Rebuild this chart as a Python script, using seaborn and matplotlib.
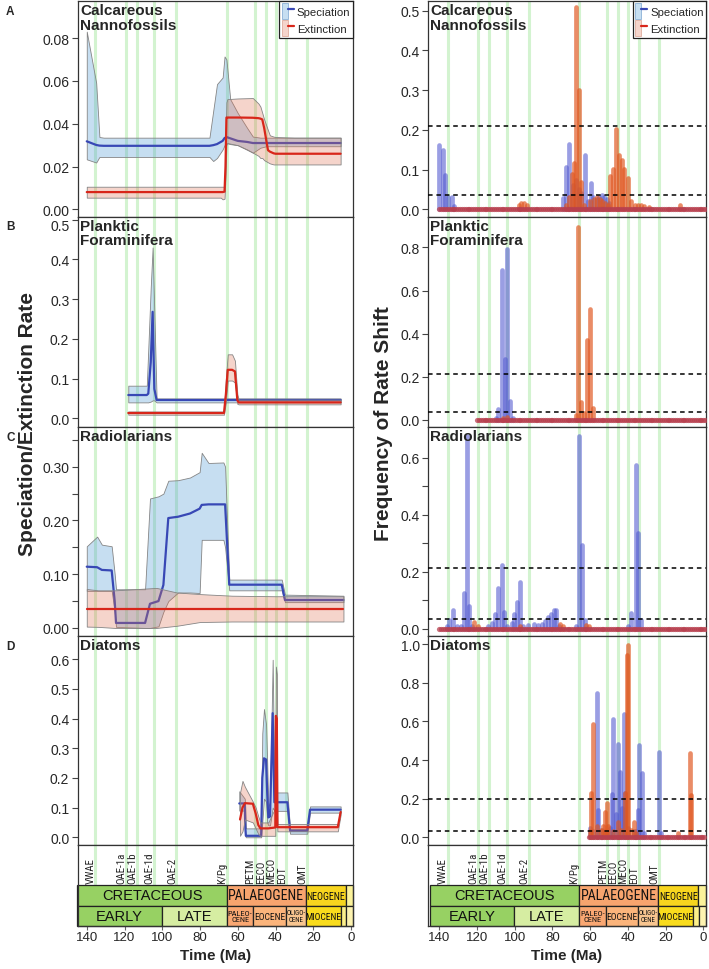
import numpy as np
import matplotlib
matplotlib.use("Agg")
import matplotlib.pyplot as plt
import seaborn as sns
from matplotlib.patches import Rectangle, Patch
from matplotlib.lines import Line2D
from matplotlib.legend_handler import HandlerTuple
from matplotlib import font_manager
from matplotlib.font_manager import FontProperties
from matplotlib.colors import to_rgba
import matplotlib.transforms as mtransforms

# ---------------------------------------------------------------- data
PANEL_NAMES = ["Calcareous\nNannofossils", "Planktic\nForaminifera", "Radiolarians", "Diatoms"]
PANEL_LETTERS = ["A", "B", "C", "D"]

# left column: rates (median + 95% band)
nanno_sp_age = [140, 135, 133.3, 131, 75, 73, 71, 68, 67, 66, 64, 60, 55, 52, 48, 45, 40, 30, 5.5]
nanno_sp_mid = [0.0318, 0.0301, 0.0298, 0.0297, 0.0297, 0.0300, 0.0305, 0.032, 0.0333, 0.0338, 0.0332, 0.032, 0.0315, 0.031, 0.031, 0.031, 0.031, 0.031, 0.031]
nanno_sp_hi = [0.083, 0.059, 0.0338, 0.0335, 0.0335, 0.046, 0.0585, 0.0616, 0.0714, 0.070, 0.0515, 0.045, 0.038, 0.034, 0.0335, 0.0335, 0.0335, 0.0335, 0.0335]
nanno_sp_lo = [0.0234, 0.0219, 0.0245, 0.0245, 0.0245, 0.0226, 0.024, 0.028, 0.030, 0.031, 0.0305, 0.030, 0.028, 0.0265, 0.0288, 0.0295, 0.0295, 0.0295, 0.0295]
nanno_ex_age = [140, 69, 68, 67, 66.5, 66, 65.5, 60, 52, 49, 48, 47, 46, 44, 43, 41, 40, 30, 5.5]
nanno_ex_mid = [0.0081, 0.0081, 0.0081, 0.0083, 0.020, 0.0429, 0.0429, 0.0429, 0.0428, 0.0426, 0.0424, 0.042, 0.038, 0.0277, 0.027, 0.0262, 0.026, 0.026, 0.026]
nanno_ex_hi = [0.0106, 0.0106, 0.0106, 0.0106, 0.030, 0.050, 0.0515, 0.0518, 0.052, 0.0494, 0.048, 0.045, 0.042, 0.037, 0.0346, 0.034, 0.0338, 0.0335, 0.0335]
nanno_ex_lo = [0.0055, 0.0055, 0.0047, 0.005, 0.015, 0.030, 0.031, 0.030, 0.0265, 0.025, 0.024, 0.024, 0.023, 0.022, 0.0215, 0.021, 0.021, 0.021, 0.021]

foram_sp_age = [118, 108.2, 107.4, 106.1, 105.1, 104.2, 103.0, 5.5]
foram_sp_mid = [0.0585, 0.0585, 0.062, 0.141, 0.268, 0.074, 0.046, 0.046]
foram_sp_hi = [0.082, 0.082, 0.175, 0.33, 0.43, 0.265, 0.050, 0.050]
foram_sp_lo = [0.040, 0.040, 0.040, 0.042, 0.045, 0.045, 0.040, 0.040]
foram_ex_age = [118, 67.3, 66.3, 65.3, 63, 61.5, 60.2, 59.5, 5.5]
foram_ex_mid = [0.0133, 0.0133, 0.06, 0.122, 0.122, 0.118, 0.045, 0.040, 0.040]
foram_ex_hi = [0.017, 0.017, 0.10, 0.161, 0.161, 0.145, 0.06, 0.047, 0.047]
foram_ex_lo = [0.009, 0.009, 0.04, 0.095, 0.095, 0.09, 0.036, 0.035, 0.035]

radio_sp_age = [140, 134.5, 132, 126.8, 125.2, 124.5, 109.1, 106.5, 102, 99.4, 96.8, 91.6, 85.3, 80.2, 79.1, 75.5, 67.6, 66.7, 64.5, 36.7, 35, 4]
radio_sp_mid = [0.114, 0.113, 0.108, 0.107, 0.05, 0.0093, 0.0093, 0.045, 0.05, 0.08, 0.2045, 0.207, 0.213, 0.222, 0.229, 0.23, 0.23, 0.23, 0.0805, 0.0805, 0.052, 0.052]
radio_sp_hi = [0.152, 0.170, 0.155, 0.152, 0.10, 0.072, 0.072, 0.241, 0.245, 0.25, 0.274, 0.275, 0.28, 0.29, 0.326, 0.307, 0.308, 0.30, 0.09, 0.09, 0.062, 0.06]
radio_sp_lo = [0.069, 0.069, 0.069, 0.069, 0.03, 0.002, 0.0, 0.0, 0.003, 0.03, 0.05, 0.066, 0.066, 0.065, 0.164, 0.164, 0.164, 0.15, 0.07, 0.07, 0.048, 0.048]
radio_ex_age = [140, 134, 125, 103, 92.3, 80, 63, 40, 4]
radio_ex_mid = [0.0353, 0.0353, 0.0353, 0.0353, 0.0353, 0.0353, 0.0353, 0.0353, 0.0353]
radio_ex_hi = [0.0725, 0.070, 0.070, 0.0745, 0.066, 0.063, 0.060, 0.059, 0.059]
radio_ex_lo = [0.0025, 0.002, 0.0, 0.0, 0.004, 0.011, 0.012, 0.012, 0.012]

diatom_sp_age = [59.2, 56.3, 56.0, 55.7, 47.6, 47.0, 46.1, 45.0, 44.4, 43.8, 42.9, 41.5, 40.6, 33.7, 32.3, 23.2, 21.7, 5.5]
diatom_sp_mid = [0.114, 0.114, 0.034, 0.005, 0.005, 0.20, 0.266, 0.262, 0.15, 0.067, 0.07, 0.418, 0.118, 0.118, 0.022, 0.022, 0.093, 0.093]
diatom_sp_hi = [0.155, 0.13, 0.10, 0.03, 0.03, 0.35, 0.432, 0.38, 0.25, 0.10, 0.12, 0.598, 0.151, 0.151, 0.028, 0.028, 0.104, 0.104]
diatom_sp_lo = [0.09, 0.09, 0.005, 0.0, 0.0, 0.05, 0.13, 0.12, 0.05, 0.04, 0.04, 0.10, 0.089, 0.089, 0.012, 0.012, 0.083, 0.083]
diatom_ex_age = [58.8, 57.5, 56.2, 52.0, 50.5, 49.1, 48.0, 43.8, 40.1, 39.8, 39.3, 39.0, 7.0, 5.5]
diatom_ex_mid = [0.06, 0.10, 0.115, 0.113, 0.08, 0.041, 0.03, 0.03, 0.033, 0.409, 0.40, 0.034, 0.034, 0.085]
diatom_ex_hi = [0.15, 0.19, 0.17, 0.12, 0.10, 0.07, 0.05, 0.05, 0.10, 0.575, 0.55, 0.045, 0.045, 0.09]
diatom_ex_lo = [0.005, 0.02, 0.06, 0.05, 0.03, 0.01, 0.005, 0.005, 0.005, 0.15, 0.12, 0.02, 0.02, 0.075]

# right column: frequency of rate shifts (non-zero bins)
nanno_spshift_age = [140, 138.2, 136.8, 135.2, 133.5, 132, 74.6, 72.8, 71.2, 69.3, 67.5, 66.1, 65.0, 62.7, 61.2, 59.7, 58.3, 56.5, 55.2, 53.9, 52.5, 51.2, 49.9]
nanno_spshift_freq = [0.163, 0.148, 0.087, 0.03, 0.03, 0.008, 0.029, 0.106, 0.165, 0.06, 0.075, 0.05, 0.04, 0.136, 0.02, 0.066, 0.03, 0.025, 0.03, 0.035, 0.03, 0.025, 0.015]
nanno_exshift_age = [98, 96.5, 95, 93.5, 72.8, 71.2, 69.8, 68.6, 67.5, 66.1, 65.0, 63.5, 60, 58, 56.5, 55, 53.5, 52, 50.5, 49.5, 48.1, 46.3, 44.7, 43.3, 41.9, 40.1, 38.5, 36, 34.5, 33, 31.5, 29, 12.5]
nanno_exshift_freq = [0.012, 0.016, 0.015, 0.01, 0.01, 0.03, 0.09, 0.117, 0.508, 0.299, 0.07, 0.01, 0.02, 0.025, 0.03, 0.025, 0.02, 0.015, 0.01, 0.084, 0.101, 0.201, 0.136, 0.123, 0.101, 0.080, 0.02, 0.01, 0.012, 0.01, 0.008, 0.005, 0.012]

foram_spshift_age = [110, 108.7, 106.6, 105.2, 104, 102.5, 101]
foram_spshift_freq = [0.01, 0.05, 0.694, 0.283, 0.792, 0.089, 0.01]
foram_exshift_age = [106, 104, 67.5, 66.3, 64.9, 63.3, 61.5, 60.1, 58.7]
foram_exshift_freq = [0.01, 0.012, 0.02, 0.893, 0.084, 0.03, 0.368, 0.513, 0.054]

radio_spshift_age = [136, 134.7, 132.6, 130.5, 128.5, 126.9, 125.5, 124.1, 122.5, 114, 112.2, 110.5, 108.7, 106.9, 105.6, 104, 101.6, 100.2, 98.6, 97.2, 95.5, 93, 90, 87.5, 85.7, 84, 82.2, 80.8, 79.2, 78.1, 76.5, 67.5, 66, 64.5, 63, 40, 38.4, 35.9, 34.5, 33]
radio_spshift_freq = [0.01, 0.03, 0.064, 0.01, 0.01, 0.125, 0.675, 0.08, 0.01, 0.01, 0.02, 0.052, 0.144, 0.222, 0.06, 0.01, 0.02, 0.052, 0.095, 0.165, 0.01, 0.012, 0.015, 0.012, 0.015, 0.025, 0.04, 0.052, 0.064, 0.065, 0.01, 0.01, 0.675, 0.295, 0.03, 0.01, 0.056, 0.574, 0.337, 0.03]
radio_exshift_age = [121.5, 119.5, 97, 76, 74.5, 62, 60.5]
radio_exshift_freq = [0.022, 0.01, 0.008, 0.015, 0.01, 0.012, 0.008]

diatom_spshift_age = [60.1, 58.5, 56.5, 55.7, 54, 51.5, 49.3, 48.6, 48.1, 46.5, 45.0, 44.2, 43.2, 42.2, 41.4, 40, 37, 35.5, 34.8, 34.1, 32.7, 31.5, 23.5, 22.5]
diatom_spshift_freq = [0.047, 0.03, 0.749, 0.141, 0.04, 0.03, 0.05, 0.224, 0.611, 0.12, 0.483, 0.34, 0.15, 0.639, 0.23, 0.05, 0.03, 0.03, 0.14, 0.478, 0.332, 0.02, 0.44, 0.02]
diatom_exshift_age = [59.9, 59.4, 58.4, 56.5, 54.5, 53, 52.2, 51.3, 50.5, 48, 45, 43.5, 41.3, 40.7, 39.8, 38.5, 36.7, 35.5, 13.6, 7.2, 6.6]
diatom_exshift_freq = [0.03, 0.228, 0.585, 0.06, 0.04, 0.06, 0.13, 0.176, 0.06, 0.03, 0.08, 0.04, 0.23, 0.945, 0.996, 0.04, 0.08, 0.02, 0.02, 0.435, 0.22]

SHIFT_ORIGIN = [140, 120, 140, 60.5]          # age where each clade's shift record begins
THRESH_HIGH = [0.21, 0.21, 0.212, 0.197]      # dashed reference levels
THRESH_LOW = [0.035, 0.036, 0.034, 0.033]

# y-axis ticks
LEFT_TICKS = [[0, 0.02, 0.04, 0.06, 0.08], [0, 0.1, 0.2, 0.3, 0.4, 0.5],
              [0, 0.05, 0.10, 0.15, 0.20, 0.25, 0.30, 0.35], [0, 0.1, 0.2, 0.3, 0.4, 0.5, 0.6]]
LEFT_TICKLABELS = [["0.00", "0.02", "0.04", "0.06", "0.08"], ["0.0", "0.1", "0.2", "0.3", "0.4", "0.5"],
                   ["0.00", "", "0.10", "", "0.20", "", "0.30", ""], ["0.0", "0.1", "0.2", "0.3", "0.4", "0.5", "0.6"]]
RIGHT_TICKS = [[0, 0.1, 0.2, 0.3, 0.4, 0.5], [0, 0.2, 0.4, 0.6, 0.8],
               [0, 0.1, 0.2, 0.3, 0.4, 0.5, 0.6], [0, 0.2, 0.4, 0.6, 0.8, 1.0]]
RIGHT_TICKLABELS = [["0.0", "0.1", "0.2", "0.3", "0.4", "0.5"], ["0.0", "0.2", "0.4", "0.6", "0.8"],
                    ["0.0", "", "0.2", "", "0.4", "", "0.6"], ["0.0", "0.2", "0.4", "0.6", "0.8", "1.0"]]
LEFT_YLIM = [(-0.0033, 0.0973), (-0.022, 0.508), (-0.015, 0.374), (-0.026, 0.678)]
RIGHT_YLIM = [(-0.018, 0.524), (-0.034, 0.944), (-0.026, 0.708), (-0.04, 1.043)]

X_TICKS = [140, 120, 100, 80, 60, 40, 20, 0]

# events
EVENT_NAMES = ["VWAE", "OAE-1a", "OAE-1b", "OAE-1d", "OAE-2", "K/Pg", "PETM", "EECO", "MECO", "EOT", "OMT"]
EVENT_AGES = [135.6, 119.3, 113.6, 104.2, 92.5, 65.9, 51.0, 45.3, 39.9, 34.3, 23.4]

# geological time scale
PERIOD_NAMES = ["CRETACEOUS", "PALAEOGENE", "NEOGENE", ""]
PERIOD_START = [145, 65.8, 23.9, 2.7]
PERIOD_END = [65.8, 23.9, 2.7, None]
PERIOD_COLORS = ["#97d163", "#f7a46e", "#f7d51e", "#fbf29a"]
EPOCH_NAMES = ["EARLY", "LATE", "PALEO-\nCENE", "EOCENE", "OLIGO-\nCENE", "MIOCENE", "", ""]
EPOCH_START = [145, 100.3, 65.8, 51.7, 34.7, 23.9, 5.5, 2.5]
EPOCH_END = [100.3, 65.8, 51.7, 34.7, 23.9, 5.5, 2.5, None]
EPOCH_COLORS = ["#97d163", "#d6eda2", "#f9a772", "#fbb47b", "#f8c58f", "#f9dc1c", "#fdf08a", "#fdf3b0"]

# ---------------------------------------------------------------- style
sns.set_theme(style="white")
names = {f.name for f in font_manager.fontManager.ttflist}
BASE = "Liberation Sans" if "Liberation Sans" in names else "DejaVu Sans"
plt.rcParams["font.family"] = [BASE, "DejaVu Sans"]
plt.rcParams["axes.linewidth"] = 0.9

# look for a condensed sans face for the cramped time-scale labels
COND_FP = None
pref = ["Liberation Sans Narrow", "Arial Narrow", "Roboto Condensed", "Open Sans Condensed",
        "Noto Sans", "DejaVu Sans", "Roboto", "Open Sans", "Liberation Sans"]
cands = [f for f in font_manager.fontManager.ttflist
         if f.stretch == "condensed" and f.style == "normal"
         and (f.weight in (400, "normal", "regular", "book"))]
cands.sort(key=lambda f: (pref.index(f.name) if f.name in pref else 99))
if cands:
    COND_FP = FontProperties(fname=cands[0].fname)
NSCALE = 1.0 if COND_FP is not None else 0.82


def cond_kw(size):
    if COND_FP is not None:
        fp = COND_FP.copy()
        fp.set_size(size)
        return dict(fontproperties=fp)
    return dict(family=[BASE, "DejaVu Sans"], fontsize=size * NSCALE)


BLUE_LINE = "#3848b5"
RED_LINE = "#d8261a"
BLUE_FILL = to_rgba("#5aa0d7", 0.34)
RED_FILL = to_rgba("#e17355", 0.30)
BAND_EDGE = "#858585"
BLUE_BAR = to_rgba("#5259d0", 0.58)
ORANGE_BAR = to_rgba("#e0561f", 0.68)
BASE_DOT = "#b8404f"
GREEN = "#d3f3d0"

W, H = 709, 970
fig = plt.figure(figsize=(W / 100, H / 100), dpi=100)


def rect(x0, y0, x1, y1):
    return [x0 / W, 1 - y1 / H, (x1 - x0) / W, (y1 - y0) / H]


ROWS = [2, 217.5, 428, 637, 846]
TS_BOTTOM = 926.7
COLS = [(77.7, 352.7), (428, 706)]
XLIMS = [(144.8, -0.9), (146.0, -1.4)]

left_data = [
    (nanno_sp_age, nanno_sp_mid, nanno_sp_lo, nanno_sp_hi, nanno_ex_age, nanno_ex_mid, nanno_ex_lo, nanno_ex_hi),
    (foram_sp_age, foram_sp_mid, foram_sp_lo, foram_sp_hi, foram_ex_age, foram_ex_mid, foram_ex_lo, foram_ex_hi),
    (radio_sp_age, radio_sp_mid, radio_sp_lo, radio_sp_hi, radio_ex_age, radio_ex_mid, radio_ex_lo, radio_ex_hi),
    (diatom_sp_age, diatom_sp_mid, diatom_sp_lo, diatom_sp_hi, diatom_ex_age, diatom_ex_mid, diatom_ex_lo, diatom_ex_hi),
]
right_data = [
    (nanno_spshift_age, nanno_spshift_freq, nanno_exshift_age, nanno_exshift_freq),
    (foram_spshift_age, foram_spshift_freq, foram_exshift_age, foram_exshift_freq),
    (radio_spshift_age, radio_spshift_freq, radio_exshift_age, radio_exshift_freq),
    (diatom_spshift_age, diatom_spshift_freq, diatom_exshift_age, diatom_exshift_freq),
]


def style_axis(ax, xlim, ylim, ticks, labels):
    ax.set_xlim(*xlim)
    ax.set_ylim(*ylim)
    ax.set_xticks([])
    ax.set_yticks(ticks)
    ax.set_yticklabels(labels)
    ax.tick_params(axis="y", which="both", left=True, direction="out", length=4, width=0.8,
                   pad=2, labelsize=10, color="#444444")
    for s in ax.spines.values():
        s.set_color("#333333")
        s.set_linewidth(0.9)
    ax.set_xlabel("")
    ax.set_ylabel("")
    for a in EVENT_AGES:
        ax.axvline(a, color=GREEN, lw=2.2, zorder=0.5)


def add_title(ax, text):
    ax.text(0.008, 0.99, text, transform=ax.transAxes, ha="left", va="top",
            fontsize=11, fontweight="bold", linespacing=1.05, zorder=10)


def add_legend(ax):
    h_sp = (Patch(facecolor=BLUE_FILL, edgecolor="#7aa4cf", lw=0.5), Line2D([], [], color=BLUE_LINE, lw=1.6))
    h_ex = (Patch(facecolor=RED_FILL, edgecolor="#d9a090", lw=0.5), Line2D([], [], color=RED_LINE, lw=1.6))
    leg = ax.legend([h_sp, h_ex], ["Speciation", "Extinction"], loc="upper right",
                    bbox_to_anchor=(1.0, 1.0), borderaxespad=0, frameon=True, fancybox=False,
                    framealpha=1, edgecolor="#222222", fontsize=8.2, handlelength=1.1,
                    handleheight=1.7, handletextpad=0.25, borderpad=0.2, labelspacing=0.15,
                    handler_map={tuple: HandlerTuple(ndivide=None, pad=0)})
    leg.get_frame().set_linewidth(0.9)
    leg.set_zorder(20)


# ---------------------------------------------------------------- left column
for i in range(4):
    ax = fig.add_axes(rect(COLS[0][0], ROWS[i], COLS[0][1], ROWS[i + 1]))
    sa, sm, sl, sh, ea, em, el, eh = left_data[i]
    ax.fill_between(sa, sl, sh, facecolor=BLUE_FILL, edgecolor=BAND_EDGE, linewidth=0.6, zorder=1)
    sns.lineplot(x=sa, y=sm, ax=ax, color=BLUE_LINE, linewidth=1.6, sort=False,
                 estimator=None, legend=False, zorder=2)
    ax.fill_between(ea, el, eh, facecolor=RED_FILL, edgecolor=BAND_EDGE, linewidth=0.6, zorder=3)
    sns.lineplot(x=ea, y=em, ax=ax, color=RED_LINE, linewidth=1.6, sort=False,
                 estimator=None, legend=False, zorder=4)
    style_axis(ax, XLIMS[0], LEFT_YLIM[i], LEFT_TICKS[i], LEFT_TICKLABELS[i])
    add_title(ax, PANEL_NAMES[i])
    if i == 0:
        add_legend(ax)
    if i == 1:
        # the top label sits a little lower in the reference (clears panel A's 0.00)
        top = ax.get_yticklabels()[-1]
        top.set_transform(top.get_transform() +
                          mtransforms.ScaledTranslation(0, -5 / 100, fig.dpi_scale_trans))
    fig.text(6 / W, 1 - (ROWS[i] + 10) / H, PANEL_LETTERS[i], fontsize=8.5, fontweight="bold",
             ha="left", va="center")

# ---------------------------------------------------------------- right column
for i in range(4):
    ax = fig.add_axes(rect(COLS[1][0], ROWS[i], COLS[1][1], ROWS[i + 1]))
    sa, sf, ea, ef = right_data[i]
    grid = np.arange(SHIFT_ORIGIN[i], -1.5, -1.0)
    ax.vlines(sa, 0, sf, colors=[BLUE_BAR], linewidth=3.4, capstyle="round", zorder=2)
    ax.vlines(ea, 0, ef, colors=[ORANGE_BAR], linewidth=3.4, capstyle="round", zorder=3)
    sns.scatterplot(x=grid, y=np.zeros_like(grid), ax=ax, color=BASE_DOT, alpha=0.75, s=14,
                    linewidth=0, legend=False, zorder=3.5)
    ax.axhline(THRESH_HIGH[i], color="black", lw=1.1, ls=(0, (3, 2.5)), zorder=5)
    ax.axhline(THRESH_LOW[i], color="black", lw=1.1, ls=(0, (3, 2.5)), zorder=5)
    style_axis(ax, XLIMS[1], RIGHT_YLIM[i], RIGHT_TICKS[i], RIGHT_TICKLABELS[i])
    add_title(ax, PANEL_NAMES[i])
    if i == 0:
        add_legend(ax)

# ---------------------------------------------------------------- time scales
for c in range(2):
    ax = fig.add_axes(rect(COLS[c][0], ROWS[4], COLS[c][1], TS_BOTTOM))
    xl = XLIMS[c]
    ax.set_xlim(*xl)
    ax.set_ylim(0, 80.7)
    ax.set_yticks([])
    for s in ax.spines.values():
        s.set_color("#333333")
        s.set_linewidth(0.9)
    ax.vlines(EVENT_AGES, 41, 80.7, color=GREEN, lw=2.2, zorder=0.5)
    off = mtransforms.offset_copy(ax.transData, fig=fig, x=-4.5, y=0, units="dots")
    for name, a in zip(EVENT_NAMES, EVENT_AGES):
        ax.text(a, 42.5, name, transform=off, rotation=90, ha="center", va="bottom",
                **cond_kw(7.8))
    # period row
    for name, a0, a1, col in zip(PERIOD_NAMES, PERIOD_START, PERIOD_END, PERIOD_COLORS):
        a1 = xl[1] if a1 is None else a1
        ax.add_patch(Rectangle((a1, 19.4), a0 - a1, 21.6, facecolor=col, edgecolor="#222222",
                               lw=0.9, zorder=2, clip_on=False))
        if name:
            kw = dict(fontsize=10.5) if name == "CRETACEOUS" else cond_kw(10 if name == "PALAEOGENE" else 7.2)
            ax.text((a0 + a1) / 2, 30.2, name, ha="center", va="center", zorder=3, color="#111111", **kw)
    # epoch row
    esizes = {"EARLY": None, "LATE": None, "PALEO-\nCENE": 6.0, "EOCENE": 6.8, "OLIGO-\nCENE": 5.0, "MIOCENE": 6.8}
    for name, a0, a1, col in zip(EPOCH_NAMES, EPOCH_START, EPOCH_END, EPOCH_COLORS):
        a1 = xl[1] if a1 is None else a1
        ax.add_patch(Rectangle((a1, 0), a0 - a1, 19.4, facecolor=col, edgecolor="#222222",
                               lw=0.9, zorder=2, clip_on=False))
        if name:
            if esizes[name] is None:
                kw = dict(fontsize=10.5)
            else:
                kw = dict(linespacing=0.85, **cond_kw(esizes[name]))
            ax.text((a0 + a1) / 2, 9.7, name, ha="center", va="center", zorder=3, color="#111111", **kw)
    ax.set_xticks(X_TICKS)
    ax.set_xticklabels([str(t) for t in X_TICKS])
    ax.tick_params(axis="x", bottom=True, direction="out", length=3, width=0.8, pad=0.5,
                   labelsize=9.5, color="#666666")
    ax.set_xlabel("Time (Ma)", fontsize=11, fontweight="bold", labelpad=4)

# ---------------------------------------------------------------- axis titles
fig.text(28 / W, 1 - 424 / H, "Speciation/Extinction Rate", rotation=90, ha="center", va="center",
         fontsize=15, fontweight="bold")
fig.text(383 / W, 1 - 424 / H, "Frequency of Rate Shift", rotation=90, ha="center", va="center",
         fontsize=15, fontweight="bold")

fig.savefig("out.png", dpi=100)
